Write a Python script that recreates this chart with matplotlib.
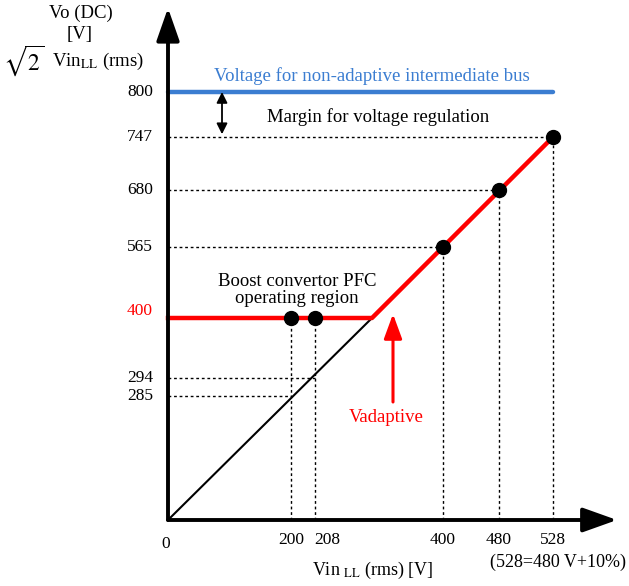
import numpy as np
import matplotlib
matplotlib.use("Agg")
import matplotlib.pyplot as plt

plt.rcParams['font.family'] = 'Liberation Serif'
plt.rcParams['mathtext.fontset'] = 'stix'

# values (V)
vin_ticks = [200, 208, 400, 480, 528]
vo_ticks = [285, 294, 400, 565, 680, 747, 800]
vin_pts = [200, 208, 400, 480, 528]          # black dots
vo_pts = [400, 400, 565, 680, 747]
vin_diag = [200, 208]                        # where sqrt2*Vin crosses 285 / 294
vo_diag = [285, 294]
v_boost = 400
v_bus = 800
vin_knee = v_boost / np.sqrt(2)
vin_end = 528
vo_end = 747

# the sketch is not to scale: piecewise mapping value -> pixel
xv = [-300, 0, 200, 208, vin_knee, 400, 480, 528, 700]
xp = [-16, 168, 291, 315, 372, 443, 499, 553, 742]
yv = [-300, 0, 285, 294, 400, 565, 680, 747, 800, 1000]
yp = [-64, 66, 190, 208, 268, 339, 396, 449, 494, 664]

W, H = 629, 586
fig = plt.figure(figsize=(W / 100, H / 100), dpi=100)
ax = fig.add_axes([0, 0, 1, 1])
ax.set_xscale('function', functions=(lambda v: np.interp(v, xv, xp),
                                     lambda p: np.interp(p, xp, xv)))
ax.set_yscale('function', functions=(lambda v: np.interp(v, yv, yp),
                                     lambda p: np.interp(p, yp, yv)))
ax.set_xlim(np.interp(0, xp, xv), np.interp(W, xp, xv))
ax.set_ylim(np.interp(0, yp, yv), np.interp(H, yp, yv))
ax.axis('off')


def fx(px):
    return px / W


def fy(py):
    return 1 - py / H


dot = dict(color='k', lw=1.0, ls=(0, (2, 2)), zorder=1)

# dotted guides
for v, o in zip(vin_pts, vo_pts):
    ax.plot([v, v], [0, o], **dot)
for v, o in zip(vin_pts[2:], vo_pts[2:]):
    ax.plot([0, v], [o, o], **dot)
for v, o in zip(vin_diag, vo_diag):
    ax.plot([0, v], [o, o], **dot)

# sqrt2 * Vin line
ax.plot([0, vin_knee], [0, v_boost], color='k', lw=1.5, zorder=2)
# adaptive bus voltage
ax.plot([0, vin_knee, vin_end], [v_boost, v_boost, vo_end], color='#ff0000',
        lw=3.2, zorder=3)
# fixed bus
ax.plot([0, vin_end], [v_bus, v_bus], color='#3b7dd1', lw=3.2,
        solid_capstyle='round', zorder=3)
ax.plot(vin_pts, vo_pts, 'o', color='k', ms=10, zorder=5)

# axes with arrows
ax.annotate('', xy=(0, fy(8)), xycoords=('data', 'axes fraction'),
            xytext=(0, 0), textcoords='data',
            arrowprops=dict(arrowstyle='-|>,head_length=20,head_width=7',
                            mutation_scale=1, color='k', lw=2.8,
                            shrinkA=0, shrinkB=0), zorder=6)
ax.annotate('', xy=(fx(617), 0), xycoords=('axes fraction', 'data'),
            xytext=(0, 0), textcoords='data',
            arrowprops=dict(arrowstyle='-|>,head_length=21,head_width=7.5',
                            mutation_scale=1, color='k', lw=2.8,
                            shrinkA=0, shrinkB=0), zorder=6)

# margin arrow
ax.annotate('', xy=(fx(222), v_bus), xycoords=('axes fraction', 'data'),
            xytext=(fx(222), vo_end),
            textcoords=('axes fraction', 'data'),
            arrowprops=dict(arrowstyle='<|-|>', mutation_scale=16, color='k',
                            lw=1.3, shrinkA=2, shrinkB=0))
# Vadaptive arrow
ax.annotate('', xy=(fx(393), fy(314)), xycoords='axes fraction',
            xytext=(fx(393), fy(402)), textcoords='axes fraction',
            arrowprops=dict(arrowstyle='-|>,head_length=15,head_width=5.5',
                            mutation_scale=1, color='#ff0000', lw=2.2,
                            shrinkA=0, shrinkB=0))

fs = 12.5
fa = 13.5
# tick labels
for o in vo_ticks:
    c = '#ff0000' if o == v_boost else 'k'
    off = 5 if o == v_boost else 0
    ax.annotate(str(o), xy=(fx(153), o), xycoords=('axes fraction', 'data'),
                xytext=(0, off), textcoords='offset points',
                ha='right', va='center', fontsize=fs, color=c)
for v in vin_ticks:
    off = 9 if v == 208 else 0
    ax.annotate(str(v), xy=(v, fy(540)), xycoords=('data', 'axes fraction'),
                xytext=(off, 0), textcoords='offset points',
                ha='center', va='center', fontsize=fs)
ax.text(fx(166), fy(544), '0', ha='center', va='center', fontsize=fs,
        transform=ax.transAxes)

# axis titles
ax.text(fx(81), fy(13), 'Vo (DC)', ha='center', va='center', fontsize=fa,
        transform=ax.transAxes)
ax.text(fx(80), fy(35), '[V]', ha='center', va='center', fontsize=fa,
        transform=ax.transAxes)
ax.text(fx(24), fy(61), r'$\sqrt{2}$', ha='center', va='center', fontsize=17,
        transform=ax.transAxes)
ax.text(fx(52), fy(61), r'Vin$_{\mathrm{LL}}$ (rms)', ha='left', va='center',
        fontsize=fa, transform=ax.transAxes)
ax.text(fx(373), fy(570), r'Vin $_{\mathrm{LL}}$ (rms) [V]', ha='center',
        va='center', fontsize=13, transform=ax.transAxes)
ax.text(fx(558), fy(562), '(528=480 V+10%)', ha='center', va='center',
        fontsize=13, transform=ax.transAxes)

# annotations
ax.text(fx(372), fy(76), 'Voltage for non-adaptive intermediate bus',
        ha='center', va='center', fontsize=fa, color='#3b7dd1',
        transform=ax.transAxes)
ax.text(fx(378), fy(117), 'Margin for voltage regulation', ha='center',
        va='center', fontsize=fa, transform=ax.transAxes)
ax.text(fx(297), fy(290), 'Boost convertor PFC\noperating region',
        ha='center', va='center', fontsize=fa, linespacing=1.05,
        transform=ax.transAxes)
ax.text(fx(386), fy(417), 'Vadaptive', ha='center', va='center',
        fontsize=fa, color='#ff0000', transform=ax.transAxes)

fig.savefig('out.png', dpi=100)
